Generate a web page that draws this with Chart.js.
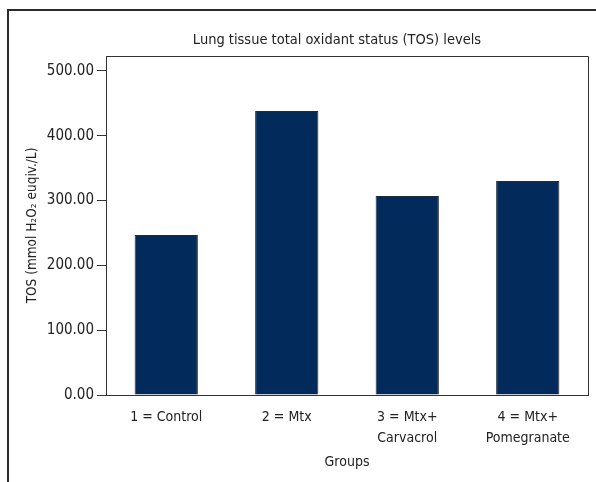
<!DOCTYPE html>
<html>
<head>
<meta charset="utf-8">
<script src="https://cdn.jsdelivr.net/npm/chart.js@4/dist/chart.umd.min.js"></script>
<style>
  html, body { margin: 0; padding: 0; background: #fff; }
  body { width: 596px; height: 482px; position: relative; overflow: hidden; }
  /* outer panel frame, cropped at right and bottom */
  .frame {
    position: absolute; left: 7px; top: 9px; width: 700px; height: 600px;
    border-left: 2px solid #2b2b2b; border-top: 2px solid #2b2b2b;
  }
  #wrap { position: absolute; left: 0; top: 0; width: 596px; height: 482px; }
</style>
</head>
<body>
<div class="frame"></div>
<div id="wrap"><canvas id="tosChart"></canvas></div>
<script>
  /* ---------- Data ---------- */
  const groups = [
    ['1 = Control'],
    ['2 = Mtx'],
    ['3 = Mtx+', 'Carvacrol'],
    ['4 = Mtx+', 'Pomegranate']
  ];
  const tosValues = [247, 438, 307, 330];
  const yTicks = [0, 100, 200, 300, 400, 500];

  const chartTitle = 'Lung tissue total oxidant status (TOS) levels';
  const yTitle = 'TOS (mmol H\u2082O\u2082 euqiv./L)';
  const xTitle = 'Groups';

  const FONT = "'Liberation Sans Narrow', 'DejaVu Sans Condensed', 'Open Sans', sans-serif";
  const INK = '#222';

  /* ---------- Plot box + title ---------- */
  const framePlugin = {
    id: 'framePlugin',
    afterDraw(chart) {
      const { ctx, chartArea: a } = chart;
      ctx.save();
      ctx.strokeStyle = '#333';
      ctx.lineWidth = 1;
      ctx.beginPath();
      ctx.moveTo(a.left, a.top + 0.5);
      ctx.lineTo(a.right + 0.5, a.top + 0.5);
      ctx.lineTo(a.right + 0.5, a.bottom);
      ctx.stroke();

      ctx.fillStyle = INK;
      ctx.font = '14.5px ' + FONT;
      ctx.textAlign = 'center';
      ctx.textBaseline = 'middle';
      ctx.fillText(chartTitle, 337, 40);
      ctx.restore();
    }
  };

  new Chart(document.getElementById('tosChart'), {
    type: 'bar',
    data: {
      labels: groups,
      datasets: [{
        data: tosValues,
        backgroundColor: '#022a5a',
        borderColor: '#2a2a2a',
        borderWidth: 1,
        categoryPercentage: 1,
        barPercentage: 0.525
      }]
    },
    options: {
      responsive: true,
      maintainAspectRatio: false,
      animation: false,
      layout: { padding: { left: 14, right: 8, top: 56, bottom: 0 } },
      plugins: {
        legend: { display: false },
        tooltip: { enabled: false }
      },
      scales: {
        x: {
          grid: { display: false },
          border: { display: true, color: '#333', width: 1 },
          ticks: {
            color: INK,
            font: { family: FONT, size: 14, lineHeight: 1.5 },
            padding: 4,
            maxRotation: 0,
            autoSkip: false
          },
          title: {
            display: true,
            text: xTitle,
            color: INK,
            font: { family: FONT, size: 14 },
            padding: { top: 0, bottom: 11 }
          },
          afterFit(s) { s.height = 87; }
        },
        y: {
          min: 0,
          max: 523,
          grid: { drawOnChartArea: false, drawTicks: true, tickLength: 9, color: '#333' },
          border: { display: true, color: '#333', width: 1 },
          ticks: {
            stepSize: 100,
            includeBounds: false,
            color: INK,
            font: { family: FONT, size: 15 },
            padding: 3,
            callback: v => yTicks.includes(v) ? v.toFixed(2) : ''
          },
          title: {
            display: true,
            text: yTitle,
            color: INK,
            font: { family: FONT, size: 13.5 },
            padding: { top: 10, bottom: 0 }
          },
          afterFit(s) { s.width = 92; }
        }
      }
    },
    plugins: [framePlugin]
  });
</script>
</body>
</html>
